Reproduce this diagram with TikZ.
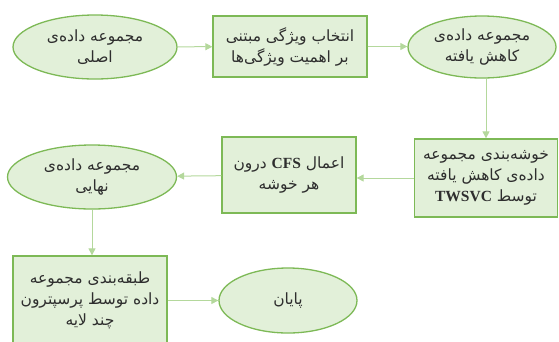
\documentclass[tikz,border=0pt]{standalone}
\usepackage{fontspec}
\usepackage{xcolor}
\usepackage{tikz}
\usetikzlibrary{arrows.meta, shapes.geometric, calc}
\TeXXeTstate=1
\newfontfamily\persianfont[Script=Arabic]{DejaVu Sans}
\newfontfamily\latinfont{Liberation Serif}
\definecolor{stepfill}{HTML}{E2F0D9}
\definecolor{stepline}{HTML}{7DB956}
\definecolor{flowline}{HTML}{B4D89C}
\definecolor{steptext}{HTML}{2E2E2E}
\newcommand*{\fa}[1]{\beginR #1\endR}
\newcommand*{\en}[1]{\beginL{\latinfont\bfseries #1}\endL{}}

\begin{document}
\begin{tikzpicture}[x=1pt, y=-1pt,
    every node/.style = {font=\persianfont\fontsize{15.5}{21}\selectfont,
                         text=steptext, align=center, inner sep=0pt},
    dataset/.style    = {ellipse, draw=stepline, fill=stepfill, line width=1.3pt},
    process/.style    = {rectangle, draw=stepline, fill=stepfill, line width=1.3pt},
    flow/.style       = {draw=flowline, line width=1pt,
                         -{Triangle[length=7pt,width=7pt]}},
  ]
  \useasboundingbox (0,0) rectangle (559,341);
  \clip (0,0) rectangle (559,341);
  % first row
  \node[dataset, minimum width=164pt, minimum height=64pt] (original) at (95,47)
    {\fa{مجموعه داده‌ی}\\\fa{اصلی}};
  \node[process, minimum width=154pt, minimum height=61pt] (select) at (290,46.5)
    {\fa{انتخاب ویژگی مبتنی}\\\fa{بر اهمیت ویژگی‌ها}};
  \node[dataset, minimum width=148pt, minimum height=62pt] (reduced) at (482,47)
    {\fa{مجموعه داده‌ی}\\\fa{کاهش یافته}};
  % second row
  \node[process, minimum width=143pt, minimum height=78pt] (cluster) at (486,178)
    {\fa{خوشه‌بندی مجموعه}\\\fa{داده‌ی کاهش یافته}\\\fa{توسط \en{TWSVC}}};
  \node[process, minimum width=134pt, minimum height=76pt] (applycfs) at (289,175)
    {\fa{اعمال \en{CFS} درون}\\\fa{هر خوشه}};
  \node[dataset, minimum width=169pt, minimum height=64pt] (final) at (92,177)
    {\fa{مجموعه داده‌ی}\\\fa{نهایی}};
  % third row
  \node[process, minimum width=154pt, minimum height=88pt] (classify) at (90,300)
    {\fa{طبقه‌بندی مجموعه}\\\fa{داده توسط پرسپترون}\\\fa{چند لایه}};
  \node[dataset, minimum width=138pt, minimum height=65pt] (finish) at (288,300.5)
    {\fa{پایان}};
  % connectors
  \draw[flow] (original) -- (select);
  \draw[flow] (select.east) -- (select.east -| reduced.west);
  \draw[flow] (cluster.north |- reduced.south) -- (cluster.north);
  \draw[flow] (cluster.west) -- (cluster.west -| applycfs.east);
  \draw[flow] (applycfs) -- (final);
  \draw[flow] (final) -- (final |- classify.north);
  \draw[flow] (classify.east |- finish.west) -- (finish);
\end{tikzpicture}
\end{document}
